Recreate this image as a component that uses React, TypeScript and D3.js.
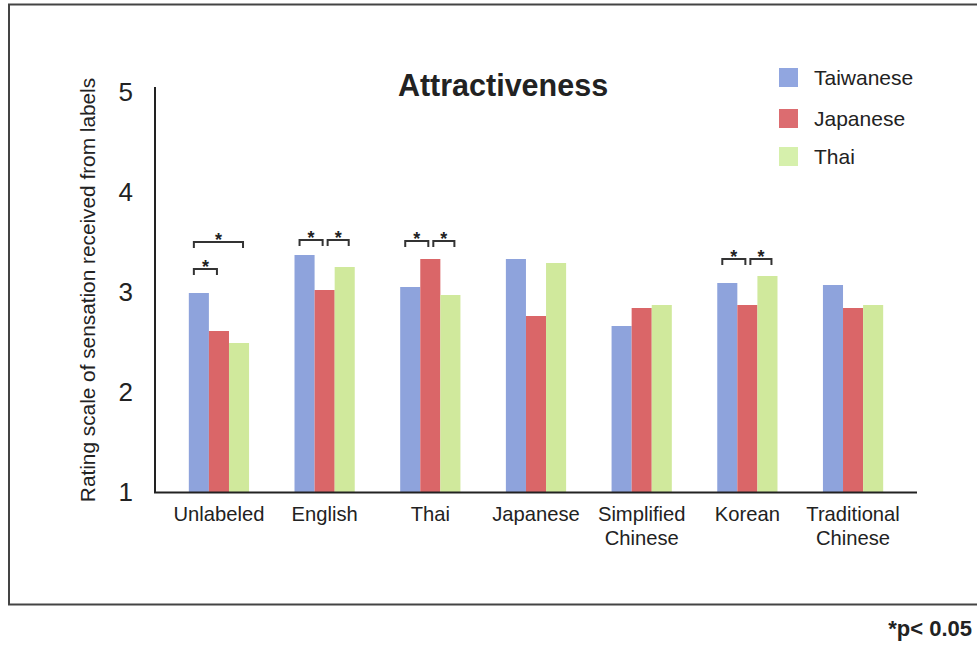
import React from "react";
import * as d3 from "d3";

// Label categories along the x axis (line breaks split with "\n")
const categories = [
  "Unlabeled",
  "English",
  "Thai",
  "Japanese",
  "Simplified\nChinese",
  "Korean",
  "Traditional\nChinese",
];

// Respondent groups
const groups = ["Taiwanese", "Japanese", "Thai"];

// Mean ratings per respondent group, in category order
const taiwanese = [2.99, 3.37, 3.05, 3.33, 2.66, 3.09, 3.07];
const japanese = [2.61, 3.02, 3.33, 2.76, 2.84, 2.87, 2.84];
const thai = [2.49, 3.25, 2.97, 3.29, 2.87, 3.16, 2.87];

const yTicks = [1, 2, 3, 4, 5];

// Significant pairwise differences (p < 0.05): category index, group indices, bracket level on the rating scale
const sigCategory = [0, 0, 1, 1, 2, 2, 5, 5];
const sigFrom = [0, 0, 0, 1, 0, 1, 0, 1];
const sigTo = [1, 2, 1, 2, 1, 2, 1, 2];
const sigLevel = [3.23, 3.5, 3.52, 3.52, 3.51, 3.51, 3.33, 3.33];

const barColors = ["#8ea3dc", "#da6668", "#d0e99c"];
const legendColors = ["#91a6e0", "#dc6c70", "#d6f0ac"];

const W = 977;
const H = 646;
const FONT = "'Liberation Sans', Arial, Helvetica, sans-serif";
const INK = "#222";

export default function App() {
  const series = [taiwanese, japanese, thai];

  const x = d3
    .scaleBand<string>()
    .domain(categories)
    .range([155, 917])
    .paddingInner(0.43)
    .paddingOuter(0.32);

  const xInner = d3
    .scaleBand<string>()
    .domain(groups)
    .range([0, x.bandwidth()])
    .padding(0);

  const y = d3.scaleLinear().domain([1, 5]).range([492, 92]);

  const barCenter = (ci: number, gi: number) =>
    (x(categories[ci]) as number) + (xInner(groups[gi]) as number) + xInner.bandwidth() / 2;

  return (
    <svg
      width={W}
      height={H}
      style={{ position: "absolute", left: 0, top: 0, background: "#fff" }}
      fontFamily={FONT}
    >
      <rect x={0} y={0} width={W} height={H} fill="#fff" />
      {/* outer frame */}
      <path d={`M${W + 5},4.5 H9 V604.5 H${W + 5}`} fill="none" stroke="#444" strokeWidth={2} />

      {/* title */}
      <text x={503} y={96} textAnchor="middle" fontSize={30.5} fontWeight="bold" fill={INK}>
        Attractiveness
      </text>

      {/* y axis title */}
      <text
        transform={`translate(95,${290}) rotate(-90)`}
        textAnchor="middle"
        fontSize={20.8}
        fill={INK}
      >
        Rating scale of sensation received from labels
      </text>

      {/* y tick labels */}
      {yTicks.map((t) => (
        <text key={t} x={133} y={y(t)} dy="0.36em" textAnchor="end" fontSize={26} fill={INK}>
          {t}
        </text>
      ))}

      {/* bars */}
      {categories.map((c, ci) => (
        <g key={c} transform={`translate(${x(c)},0)`}>
          {groups.map((g, gi) => (
            <rect
              key={g}
              x={xInner(g)}
              y={y(series[gi][ci])}
              width={xInner.bandwidth()}
              height={y(1) - y(series[gi][ci])}
              fill={barColors[gi]}
            />
          ))}
        </g>
      ))}

      {/* axes */}
      <line x1={155} x2={155} y1={87} y2={493} stroke="#222" strokeWidth={2} />
      <line x1={154} x2={917} y1={492.5} y2={492.5} stroke="#222" strokeWidth={2} />

      {/* category labels */}
      {categories.map((c) => {
        const cx = (x(c) as number) + x.bandwidth() / 2;
        return (
          <text key={c} x={cx} y={521} textAnchor="middle" fontSize={20.2} fill={INK}>
            {c.split("\n").map((line, i) => (
              <tspan key={i} x={cx} dy={i === 0 ? 0 : 24}>
                {line}
              </tspan>
            ))}
          </text>
        );
      })}

      {/* significance brackets */}
      {sigCategory.map((ci, i) => {
        const a = sigFrom[i];
        const b = sigTo[i];
        const x1 = barCenter(ci, a) - 5 + 8 * a;
        const x2 = barCenter(ci, b) - 2 + 6 * (b - 1);
        const yy = y(sigLevel[i]);
        return (
          <g key={i}>
            <path
              d={`M${x1},${yy + 6} V${yy} H${x2} V${yy + 6}`}
              fill="none"
              stroke="#333"
              strokeWidth={2}
            />
            <text x={(x1 + x2) / 2} y={yy + 4} textAnchor="middle" fontSize={18} fontWeight="bold" fill={INK}>
              *
            </text>
          </g>
        );
      })}

      {/* legend */}
      {groups.map((g, gi) => {
        const top = [68, 109, 147][gi];
        return (
          <g key={g}>
            <rect x={779} y={top} width={19} height={19} fill={legendColors[gi]} />
            <text x={814} y={top + 16.5} fontSize={21} fill={INK}>
              {g}
            </text>
          </g>
        );
      })}

      {/* footnote */}
      <text x={972} y={636} textAnchor="end" fontSize={22} fontWeight="bold" fill={INK}>
        *p&lt; 0.05
      </text>
    </svg>
  );
}
